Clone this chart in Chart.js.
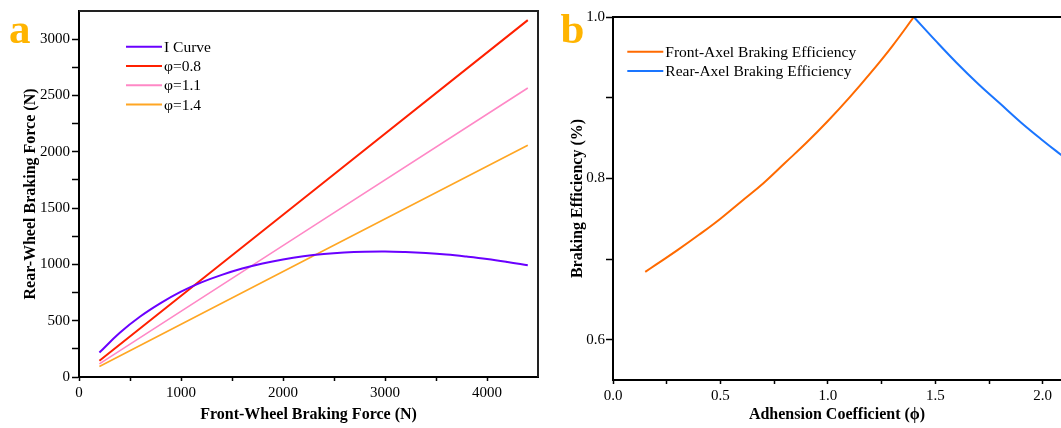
<!DOCTYPE html>
<html>
<head>
<meta charset="utf-8">
<script src="https://cdn.jsdelivr.net/npm/chart.js@4"></script>
<style>
  html, body { margin: 0; padding: 0; background: #fff; }
  #wrap { position: relative; width: 1061px; height: 428px; overflow: hidden; }
  canvas { position: absolute; top: 0; }
  #left { left: 0; }
  #right { left: 545px; }
</style>
</head>
<body>
<div id="wrap">
  <canvas id="left" width="545" height="428"></canvas>
  <canvas id="right" width="516" height="428"></canvas>
</div>
<script>
const SERIF = "'Liberation Serif', 'Times New Roman', serif";

// panel a: braking force distribution
const forceX = [200, 400, 600, 800, 1000, 1200, 1400, 1600, 1800, 2000, 2200,
                2400, 2600, 2800, 3000, 3200, 3400, 3600, 3800, 4000, 4200, 4400];
const iCurve = [217, 393, 537, 656, 758, 840, 907, 963, 1008, 1044, 1072,
                1092, 1105, 1112, 1114, 1109, 1100, 1087, 1069, 1048, 1022, 993];
const lineX = [200, 4400];
const phi08 = [144, 3169];
const phi11 = [117, 2566];
const phi14 = [94, 2058];
const frontForceTicks = [0, 1000, 2000, 3000, 4000];
const frontForceMinor = [500, 1500, 2500, 3500];
const rearForceTicks = [0, 500, 1000, 1500, 2000, 2500, 3000];
const rearForceMinor = [250, 750, 1250, 1750, 2250, 2750];

// panel b: braking efficiency
const frontPhi = [0.15, 0.2, 0.3, 0.4, 0.5, 0.6, 0.7, 0.8, 0.9, 1.0, 1.1, 1.2, 1.3, 1.4];
const frontEff = [0.684, 0.693, 0.711, 0.730, 0.750, 0.772, 0.794, 0.819, 0.844, 0.871, 0.900, 0.931, 0.964, 1.000];
const rearPhi = [1.4, 1.5, 1.6, 1.7, 1.8, 1.9, 2.0, 2.1];
const rearEff = [1.000, 0.971, 0.943, 0.917, 0.893, 0.869, 0.847, 0.826];
const phiTicks = [0, 0.5, 1.0, 1.5, 2.0];
const phiMinor = [0.25, 0.75, 1.25, 1.75];
const effTicks = [0.6, 0.8, 1.0];
const effMinor = [0.7, 0.9];

function pts(xs, ys) { return xs.map((x, i) => ({ x, y: ys[i] })); }

function axis(o) {
  const all = o.major.concat(o.minor).sort((a, b) => a - b);
  return {
    type: "linear", min: o.min, max: o.max,
    afterBuildTicks: s => { s.ticks = all.map(v => ({ value: v })); },
    afterFit: s => { if (o.horizontal) s.height = o.size; else s.width = o.size; },
    border: { color: "#000", width: 2 },
    grid: { drawOnChartArea: false, tickLength: o.tickLen, tickColor: "#000", tickWidth: 1.5 },
    ticks: {
      autoSkip: false, maxRotation: 0, padding: o.pad, color: "#000",
      font: { family: SERIF, size: 15 },
      callback: v => o.major.some(m => Math.abs(m - v) < 1e-9) ? o.fmt(v) : ""
    },
    title: {
      display: true, text: o.title, color: "#000", padding: o.titlePad,
      font: { family: SERIF, size: 16, weight: "bold" }
    }
  };
}

function decor(letter, letterX, legX, legY, frameRight, frameColor) {
  return {
    id: "decor",
    afterDraw(chart) {
      const { ctx, chartArea: a } = chart;
      ctx.save();
      ctx.strokeStyle = frameColor;
      ctx.lineWidth = 2;
      ctx.beginPath();
      ctx.moveTo(a.left, a.top);
      ctx.lineTo(a.right, a.top);
      if (frameRight) ctx.lineTo(a.right, a.bottom);
      ctx.stroke();
      // legend inside the plot
      ctx.font = "15.5px " + SERIF;
      ctx.textBaseline = "middle";
      ctx.fillStyle = "#000";
      chart.data.datasets.forEach((d, i) => {
        const y = legY + i * 19.3;
        ctx.strokeStyle = d.borderColor;
        ctx.lineWidth = 2;
        ctx.beginPath();
        ctx.moveTo(legX, y);
        ctx.lineTo(legX + 36, y);
        ctx.stroke();
        ctx.fillText(d.label, legX + 38, y + 1);
      });
      // panel letter
      ctx.font = "bold 43px " + SERIF;
      ctx.textBaseline = "alphabetic";
      ctx.fillStyle = "#FFB400";
      ctx.fillText(letter, letterX, 43);
      ctx.restore();
    }
  };
}

function lineSet(label, data, color, width) {
  return { label, data, borderColor: color, borderWidth: width, pointRadius: 0,
           fill: false, tension: 0.4 };
}

new Chart(document.getElementById("left"), {
  type: "line",
  data: {
    datasets: [
      lineSet("I Curve", pts(forceX, iCurve), "#6A00FF", 2),
      lineSet("φ=0.8", pts(lineX, phi08), "#FF2000", 2),
      lineSet("φ=1.1", pts(lineX, phi11), "#FF88C6", 1.6),
      lineSet("φ=1.4", pts(lineX, phi14), "#FFA623", 1.6)
    ]
  },
  options: {
    responsive: false, animation: false, events: [],
    layout: { padding: { top: 8, right: 7, left: 0, bottom: 0 } },
    plugins: { legend: { display: false }, tooltip: { enabled: false } },
    scales: {
      x: axis({ min: 0, max: 4500, major: frontForceTicks, minor: frontForceMinor,
                fmt: v => String(v), horizontal: true, size: 51, tickLen: 4, pad: 3,
                title: "Front-Wheel Braking Force (N)", titlePad: { top: 0, bottom: 4 } }),
      y: axis({ min: 0, max: 3250, major: rearForceTicks, minor: rearForceMinor,
                fmt: v => String(v), horizontal: false, size: 79, tickLen: 7, pad: 2,
                title: "Rear-Wheel Braking Force (N)", titlePad: { top: 21, bottom: 0 } })
    }
  },
  plugins: [decor("a", 9, 126, 46.7, true, "#222")]
});

new Chart(document.getElementById("right"), {
  type: "line",
  data: {
    datasets: [
      lineSet("Front-Axel Braking Efficiency", pts(frontPhi, frontEff), "#FF6A00", 2),
      lineSet("Rear-Axel Braking Efficiency", pts(rearPhi, rearEff), "#1A75FF", 2)
    ]
  },
  options: {
    responsive: false, animation: false, events: [],
    layout: { padding: { top: 17, right: 0, left: 0, bottom: 0 } },
    plugins: { legend: { display: false }, tooltip: { enabled: false } },
    scales: {
      x: axis({ min: 0, max: 2.085, major: phiTicks, minor: phiMinor,
                fmt: v => v.toFixed(1), horizontal: true, size: 48, tickLen: 4, pad: 3,
                title: "Adhension Coefficient (ϕ)", titlePad: { top: 0, bottom: 4 } }),
      y: axis({ min: 0.55, max: 1.0, major: effTicks, minor: effMinor,
                fmt: v => v.toFixed(1), horizontal: false, size: 68, tickLen: 7, pad: 1,
                title: "Braking Efficiency (%)", titlePad: { top: 23, bottom: 0 } })
    }
  },
  plugins: [decor("b", 15.5, 82.3, 51.7, false, "#000")]
});
</script>
</body>
</html>
